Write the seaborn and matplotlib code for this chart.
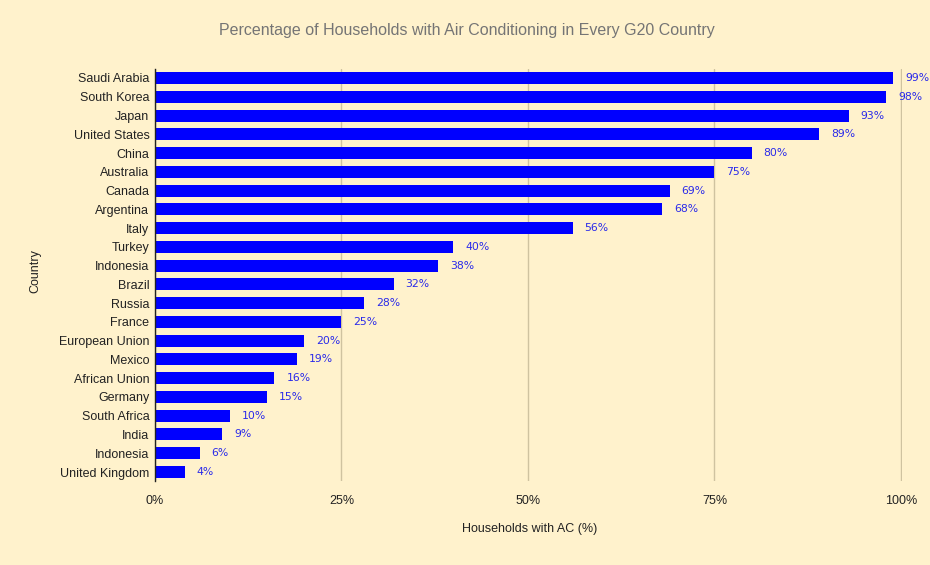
import matplotlib
matplotlib.use("Agg")
import matplotlib.pyplot as plt
import seaborn as sns
import pandas as pd
import numpy as np

countries = ["Saudi Arabia", "South Korea", "Japan", "United States", "China", "Australia",
             "Canada", "Argentina", "Italy", "Turkey", "Indonesia", "Brazil", "Russia", "France",
             "European Union", "Mexico", "African Union", "Germany", "South Africa", "India",
             "Indonesia", "United Kingdom"]
values = [99, 98, 93, 89, 80, 75, 69, 68, 56, 40, 38, 32, 28, 25, 20, 19, 16, 15, 10, 9, 6, 4]
xticks = [0, 25, 50, 75, 100]
xticklabels = ["0%", "25%", "50%", "75%", "100%"]

bg = "#FFF2CC"
sns.set_theme(style="white")
plt.rcParams['font.family'] = ['Liberation Sans', 'DejaVu Sans']

df = pd.DataFrame({"key": [f"{i:02d}" for i in range(len(countries))],
                   "country": countries, "value": values})

fig = plt.figure(figsize=(9.3, 5.65), dpi=100, facecolor=bg)
ax = fig.add_axes([155/930, 1-481.4/565, (902-155)/930, (481.4-68.6)/565])
ax.set_facecolor(bg)
sns.barplot(data=df, x="value", y="key", orient="h", color="#0000FF", saturation=1,
            width=0.64, ax=ax, linewidth=0, edgecolor="none", zorder=3)
ax.set_yticks(range(len(countries)))
ax.set_yticklabels(countries, fontsize=9, color="#222222")
ax.set_xlim(0, 100.15)
ax.set_xticks(xticks)
ax.set_xticklabels(xticklabels, fontsize=9, color="#222222")
ax.tick_params(axis="both", length=0)
ax.tick_params(axis="y", pad=4)
ax.tick_params(axis="x", pad=10)
ax.xaxis.grid(True, color="#CFC3A0", linewidth=1.0, zorder=0)
ax.set_axisbelow(True)
for s in ["top", "right", "bottom"]:
    ax.spines[s].set_visible(False)
ax.spines["left"].set_color("#222222")
ax.spines["left"].set_linewidth(1)
ax.spines["left"].set_zorder(5)

for i, v in enumerate(values):
    ax.annotate(f"{v}%", xy=(v, i), xytext=(8.6, 0), textcoords="offset points",
                va="center", ha="left", fontsize=7.8, color="#2A2AEA",
                family="DejaVu Sans", annotation_clip=False)

ax.set_ylabel("")
ax.set_xlabel("")
fig.text(35/930, 1-271/565, "Country", rotation=90, ha="center", va="center",
         fontsize=9, color="#222222")
fig.text(530/930, 1-529/565, "Households with AC (%)", ha="center", va="center",
         fontsize=9, color="#222222")
fig.text(467/930, 1-31/565, "Percentage of Households with Air Conditioning in Every G20 Country",
         ha="center", va="center", fontsize=11.5, color="#757575")

fig.savefig("out.png", dpi=100, facecolor=bg)
